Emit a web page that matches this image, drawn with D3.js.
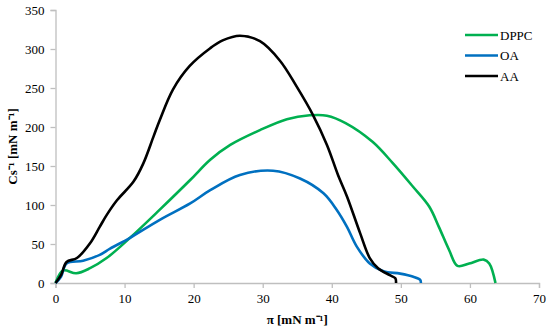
<!DOCTYPE html>
<html>
<head>
<meta charset="utf-8">
<script src="https://cdn.jsdelivr.net/npm/d3@7"></script>
<style>
  body { margin: 0; background: #fff; }
  text { font-family: "Liberation Serif", "Times New Roman", serif; fill: #000; }
</style>
</head>
<body>
<svg id="chart" width="550" height="330"></svg>
<script>
// series values: [pi, Cs^-1]
const dppc = [[0,0],[1.1,16],[3,12.5],[5,19],[7.4,32],[10.8,58],[15.1,94],[19.5,132],[22.4,158],
  [25.3,177],[29.6,196],[33.5,210],[36.8,215],[39.3,214.5],[42,205],[45.9,181],[48.8,154],[51.7,124],
  [54.1,98],[55.5,72],[57,42],[58.2,22],[59.9,25],[62,30],[62.8,25],[63.7,0]];
const oa = [[0,0],[0.8,8],[1.6,25],[4,28.5],[6.4,36],[7.9,44],[10.8,58],[15.1,81],[19.5,102],
  [22.4,119],[26.7,138.5],[31.5,144],[35.4,134],[38.8,115],[40.7,94],[42.2,72],[43.6,47],[45.5,25],
  [47.5,15],[49.9,12],[51.8,8],[52.8,4],[52.9,0]];
const aa = [[0,0],[0.8,10],[1.6,27],[3.1,32],[5,51],[6.4,72],[7.4,87],[8.9,106],[11.3,130],[12.7,153],
  [14.2,188],[15.1,209],[17,248],[19.4,278],[22.4,301],[24.2,311],[26.7,317],[29.6,310],[32.5,285],
  [34.9,252],[37.3,215],[39.3,177],[40.9,138.5],[42.2,111],[44.1,64],[45.5,32],[46.7,19],[48.4,10],
  [49.2,6],[49.3,0]];

const seriesNames = ["DPPC", "OA", "AA"];
const seriesColors = ["#00b050", "#0070c0", "#000000"];
const xTicks = [0, 10, 20, 30, 40, 50, 60, 70];
const yTicks = [0, 50, 100, 150, 200, 250, 300, 350];

const svg = d3.select("#chart");
const plotLeft = 55.5, plotRight = 539, plotTop = 10, plotBottom = 283;

const x = d3.scaleLinear().domain([0, 70]).range([plotLeft, plotRight]);
const y = d3.scaleLinear().domain([0, 350]).range([plotBottom, plotTop]);

// axes
const xAxis = svg.append("g")
    .attr("transform", `translate(0,${plotBottom})`)
    .call(d3.axisBottom(x).tickValues(xTicks).tickSize(5).tickPadding(6));
const yAxis = svg.append("g")
    .attr("transform", `translate(${plotLeft},0)`)
    .call(d3.axisLeft(y).tickValues(yTicks).tickSize(5).tickPadding(6));

[xAxis, yAxis].forEach(a => {
  a.attr("font-family", null);
  a.select(".domain").attr("stroke", "#bfbfbf").attr("stroke-width", 1.3);
  a.selectAll(".tick line").attr("stroke", "#bfbfbf").attr("stroke-width", 1.3);
  a.selectAll(".tick text")
      .style("font-family", '"Liberation Serif", "Times New Roman", serif')
      .style("font-size", "13px")
      .attr("fill", "#000");
});

// lines
const line = d3.line()
    .x(d => x(d[0]))
    .y(d => y(d[1]))
    .curve(d3.curveCatmullRom.alpha(0.5));

const allSeries = [dppc, oa, aa];
svg.append("g").selectAll("path")
  .data(allSeries)
  .enter().append("path")
    .attr("d", line)
    .attr("fill", "none")
    .attr("stroke", (d, i) => seriesColors[i])
    .attr("stroke-width", 2.6)
    .attr("stroke-linejoin", "round");

// legend
const legend = svg.append("g");
const legendY = [35, 55.5, 76];
seriesNames.forEach((name, i) => {
  legend.append("line")
      .attr("x1", 465).attr("x2", 498)
      .attr("y1", legendY[i]).attr("y2", legendY[i])
      .attr("stroke", seriesColors[i])
      .attr("stroke-width", 2.6);
  legend.append("text")
      .attr("x", 500).attr("y", legendY[i])
      .attr("dy", "0.35em")
      .style("font-size", "13px")
      .text(name);
});

// axis titles
svg.append("text")
    .attr("x", (plotLeft + plotRight) / 2).attr("y", 324)
    .attr("text-anchor", "middle")
    .style("font-size", "13px")
    .style("font-weight", "bold")
    .text("π [mN m⁻¹]");

svg.append("text")
    .attr("transform", `translate(17,${(plotTop + plotBottom) / 2}) rotate(-90)`)
    .attr("text-anchor", "middle")
    .style("font-size", "13px")
    .style("font-weight", "bold")
    .text("Cs⁻¹ [mN m⁻¹]");
</script>
</body>
</html>
